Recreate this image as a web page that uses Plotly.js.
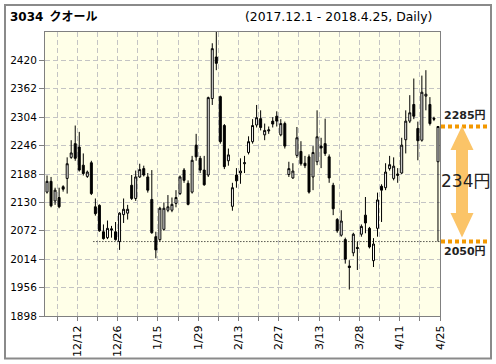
<!DOCTYPE html>
<html>
<head>
<meta charset="utf-8">
<script src="https://cdn.plot.ly/plotly-3.0.1.min.js"></script>
<style>html,body{margin:0;padding:0;background:#fff;}#chart{width:496px;height:364px;}</style>
</head>
<body>
<div id="chart"></div>
<script>
const titleText = '3034\u2002クオール';
const periodText = '(2017.12.1 - 2018.4.25, Daily)';

const dates = [
 '12/1','12/4','12/5','12/6','12/7','12/8','12/11','12/12','12/13','12/14','12/15','12/18','12/19','12/20','12/21','12/22','12/25','12/26','12/27','12/28','12/29',
 '1/4','1/5','1/9','1/10','1/11','1/12','1/15','1/16','1/17','1/18','1/19','1/22','1/23','1/24','1/25','1/26','1/29','1/30','1/31',
 '2/1','2/2','2/5','2/6','2/7','2/8','2/9','2/13','2/14','2/15','2/16','2/19','2/20','2/21','2/22','2/23','2/26','2/27','2/28',
 '3/1','3/2','3/5','3/6','3/7','3/8','3/9','3/12','3/13','3/14','3/15','3/16','3/19','3/20','3/22','3/23','3/26','3/27','3/28','3/29','3/30',
 '4/2','4/3','4/4','4/5','4/6','4/9','4/10','4/11','4/12','4/13','4/16','4/17','4/18','4/19','4/20','4/23','4/24','4/25'
];

const open = [
 2151,2173,2133,2140,2162,2179,2222,2250,2243,2206,2183,2211,2121,2124,2070,2058,2076,2070,2050,2105,2108,
 2165,2138,2182,2199,2182,2136,2060,2054,2075,2114,2114,2128,2148,2196,2169,2151,2247,2220,2196,
 2186,2342,2427,2346,2287,2215,2122,2186,2190,2209,2232,2254,2288,2301,2268,2276,2296,2306,2268,
 2291,2187,2180,2226,2234,2210,2223,2182,2213,2245,2250,2223,2165,2095,2063,2054,2000,2027,2038,2065,2104,
 2077,2011,2077,2163,2160,2199,2179,2185,2190,2258,2296,2330,2281,2257,2347,2330,2302,2213
];
const high = [
 2185,2182,2160,2160,2165,2222,2257,2287,2274,2230,2195,2215,2138,2126,2085,2093,2082,2090,2110,2138,2125,
 2186,2195,2209,2205,2190,2196,2070,2121,2130,2145,2140,2155,2185,2200,2175,2225,2270,2225,2225,
 2346,2455,2478,2348,2290,2240,2170,2200,2220,2225,2265,2300,2329,2318,2291,2285,2304,2316,2300,
 2295,2213,2210,2284,2255,2225,2228,2245,2318,2262,2301,2228,2170,2098,2114,2058,2012,2068,2050,2085,2141,
 2080,2057,2150,2167,2210,2225,2222,2200,2262,2318,2349,2383,2295,2389,2400,2345,2305,2285
];
const low = [
 2148,2120,2125,2118,2152,2148,2219,2215,2193,2185,2180,2145,2103,2070,2054,2055,2058,2052,2033,2088,2095,
 2135,2133,2180,2183,2150,2066,2016,2050,2072,2110,2110,2120,2145,2170,2124,2148,2215,2190,2164,
 2182,2329,2400,2250,2198,2205,2113,2160,2168,2190,2228,2250,2283,2277,2257,2270,2283,2285,2265,
 2240,2182,2178,2221,2205,2200,2148,2155,2206,2200,2225,2170,2104,2068,2060,2005,1952,2020,1992,2060,2067,
 2036,1998,2060,2090,2155,2195,2175,2170,2188,2230,2292,2300,2216,2254,2318,2287,2296,2050
];
const close = [
 2173,2123,2155,2121,2157,2209,2231,2220,2196,2189,2192,2148,2107,2072,2056,2077,2074,2054,2108,2116,2116,
 2138,2182,2197,2186,2155,2068,2033,2118,2118,2121,2126,2140,2182,2175,2126,2216,2223,2196,2166,
 2344,2444,2414,2254,2203,2227,2160,2174,2194,2211,2254,2287,2303,2283,2277,2278,2290,2296,2291,
 2245,2199,2194,2262,2209,2205,2151,2232,2264,2241,2230,2180,2117,2072,2092,2014,1997,2065,2036,2081,2088,
 2039,2045,2135,2155,2192,2207,2204,2188,2247,2296,2313,2306,2256,2355,2351,2291,2300,2285
];

const tickLabels = ['12/12','12/26','1/15','1/29','2/13','2/27','3/13','3/28','4/11','4/25'];
const yTicks = [1898,1956,2014,2072,2130,2188,2246,2304,2362,2420];
const yRange = [1898, 2478];

const refHigh = 2285;      // upper level (last close)
const refLow = 2050;       // lower level
const refDiffText = '234円';
const refLineStart = '12/19';

// ---- build from data ----
const xs = dates.map((d, i) => i);
const tickvals = [], ticktext = [];
tickLabels.forEach(lb => {
  const k = dates.indexOf(lb);
  tickvals.push(k - 5 + 0.5); ticktext.push('');
  tickvals.push(k + 0.5); ticktext.push(lb);
});

// plot area in pixels (for decorations outside the axes)
const PL = 45, PR = 440, PT = 32, PB = 316;
const px = v => (v - PL) / (PR - PL);
const py = v => (PB - v) / (PB - PT);

const trace = {
  type: 'candlestick',
  x: xs, open: open, high: high, low: low, close: close,
  increasing: {line: {color: '#000', width: 1}, fillcolor: '#ffffff'},
  decreasing: {line: {color: '#000', width: 1}, fillcolor: '#000000'},
  whiskerwidth: 0,
  hoverinfo: 'none',
  showlegend: false
};

const ax = 462;
const arrowPath = [
  [ax, 126], [ax + 11.5, 150], [ax + 6, 150], [ax + 6, 213], [ax + 11.5, 213],
  [ax, 237.5], [ax - 11.5, 213], [ax - 6, 213], [ax - 6, 150], [ax - 11.5, 150]
].map((p, i) => (i === 0 ? 'M' : 'L') + px(p[0]).toFixed(4) + ',' + py(p[1]).toFixed(4)).join(' ') + ' Z';

const font = 'DejaVu Sans, Noto Sans CJK JP, sans-serif';

const layout = {
  width: 496, height: 364, autosize: false,
  margin: {l: PL, r: 496 - PR, t: PT, b: 364 - PB, pad: 0},
  paper_bgcolor: '#ffffff',
  plot_bgcolor: '#ffffe8',
  font: {family: font, color: '#000', size: 11},
  xaxis: {
    range: [-0.5, dates.length - 0.5],
    tickmode: 'array', tickvals: tickvals, ticktext: ticktext,
    tickangle: -90, tickfont: {size: 11},
    ticks: 'outside', ticklen: 4, tickcolor: '#808080',
    showgrid: true, gridcolor: '#c4c4c4', griddash: '5px,3px', gridwidth: 1,
    showline: true, linecolor: '#808080', linewidth: 1, mirror: true,
    zeroline: false, rangeslider: {visible: false}, fixedrange: true
  },
  yaxis: {
    range: yRange,
    tickmode: 'array', tickvals: yTicks,
    tickfont: {size: 10.5},
    ticks: 'outside', ticklen: 5, tickcolor: '#808080',
    showgrid: true, gridcolor: '#c4c4c4', griddash: '5px,3px', gridwidth: 1,
    showline: true, linecolor: '#808080', linewidth: 1, mirror: true,
    zeroline: false, fixedrange: true
  },
  shapes: [
    {type: 'rect', xref: 'paper', yref: 'paper', x0: px(5), x1: px(491), y0: py(5), y1: py(358.5),
     line: {color: '#8a8a8a', width: 2}, fillcolor: 'rgba(0,0,0,0)', layer: 'below'},
    {type: 'line', xref: 'x', yref: 'y', x0: dates.indexOf(refLineStart) - 0.5, x1: dates.length - 0.5,
     y0: refLow, y1: refLow, line: {color: '#000', width: 1, dash: '1px,2px'}},
    {type: 'line', xref: 'paper', yref: 'y', x0: px(441), x1: px(490), y0: refHigh, y1: refHigh,
     line: {color: '#f39800', width: 4, dash: '4px,3px'}},
    {type: 'line', xref: 'paper', yref: 'y', x0: px(441), x1: px(490), y0: refLow, y1: refLow,
     line: {color: '#f39800', width: 4, dash: '4px,3px'}},
    {type: 'path', xref: 'paper', yref: 'paper', path: arrowPath,
     fillcolor: '#fbc468', line: {width: 0}}
  ],
  annotations: [
    {xref: 'paper', yref: 'paper', x: px(8), y: py(17), xanchor: 'left', yanchor: 'middle',
     text: '<b>' + titleText + '</b>', showarrow: false, font: {size: 12, color: '#000', family: font}},
    {xref: 'paper', yref: 'paper', x: px(434), y: py(17), xanchor: 'right', yanchor: 'middle',
     text: periodText, showarrow: false, font: {size: 12.4, color: '#000', family: font}},
    {xref: 'paper', yref: 'paper', x: px(465), y: py(115.5), xanchor: 'center', yanchor: 'middle',
     text: '<b>' + refHigh + '円</b>', showarrow: false, font: {size: 11, color: '#222', family: font}},
    {xref: 'paper', yref: 'paper', x: px(465), y: py(251), xanchor: 'center', yanchor: 'middle',
     text: '<b>' + refLow + '円</b>', showarrow: false, font: {size: 11, color: '#222', family: font}},
    {xref: 'paper', yref: 'paper', x: px(465.5), y: py(180.5), xanchor: 'center', yanchor: 'middle',
     text: refDiffText, showarrow: false, font: {size: 17, color: '#222', family: font}}
  ]
};

Plotly.newPlot('chart', [trace], layout, {displayModeBar: false, staticPlot: true});
</script>
</body>
</html>
